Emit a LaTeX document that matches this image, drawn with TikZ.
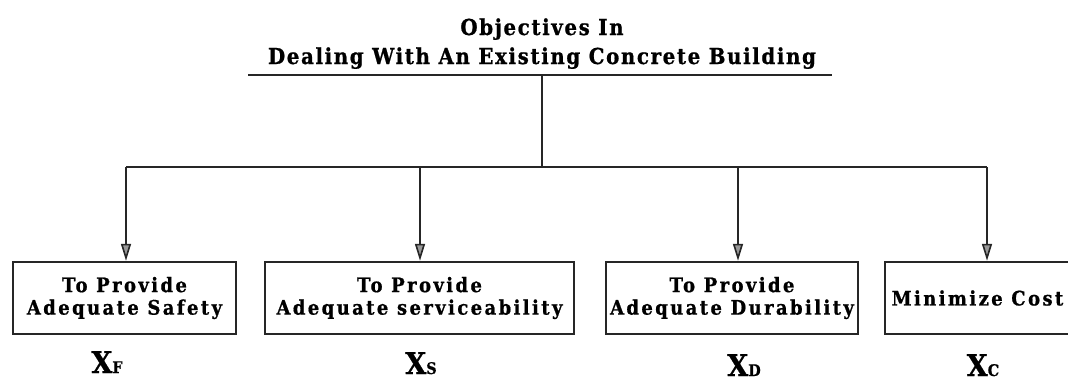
\documentclass[tikz,border=0pt]{standalone}
\usepackage{fontspec}
\usetikzlibrary{arrows.meta}
\newfontfamily\slabfont{DejaVu Serif Condensed}[FakeBold=0.8]

\tikzset{
  line/.style={line width=2.5pt, draw=black!85},
  arr/.style={line, -{Triangle[length=17pt, width=10pt, line width=1.6pt, fill=black!40]}},
  goalbox/.style={draw=black!85, line width=2.5pt, rectangle, minimum height=72pt,
    inner sep=0pt, align=center,
    font=\slabfont\bfseries\fontsize{20}{22.5}\selectfont\addfontfeature{LetterSpace=12}},
  headtext/.style={anchor=base, inner sep=0pt,
    font=\slabfont\bfseries\fontsize{22}{24}\selectfont\addfontfeature{LetterSpace=7.4}},
  varlabel/.style={anchor=base, inner sep=0pt, font=\slabfont\bfseries\fontsize{30}{32}\selectfont},
}
\newcommand{\subsc}[1]{{\fontsize{16}{18}\selectfont #1}}

\begin{document}
\begin{tikzpicture}[x=1pt, y=-1pt]
  \path[use as bounding box, fill=white] (0,0) rectangle (1068,384);

  % heading
  \node[headtext] (head1) at (542,35) {Objectives In};
  \node[headtext] (head2) at (542,64) {Dealing With An Existing Concrete Building};
  \coordinate (ruleL) at (248,75);
  \coordinate (ruleR) at (832,75);
  \coordinate (hub) at (542,75);
  \draw[line] (ruleL) -- (ruleR);

  % bus
  \coordinate (busC) at (542,167);
  \coordinate (c1) at (126,167);
  \coordinate (c2) at (420,167);
  \coordinate (c3) at (738,167);
  \coordinate (c4) at (987,167);
  \draw[line] (hub) -- (busC);
  \draw[line] (c1) -- (c4);

  % objective boxes
  \node[goalbox, minimum width=223pt] (b1) at (124.5,298) {To Provide\\Adequate Safety};
  \node[goalbox, minimum width=309pt] (b2) at (419.5,298) {To Provide\\Adequate serviceability};
  \node[goalbox, minimum width=252pt] (b3) at (732,298) {To Provide\\Adequate Durability};
  \node[goalbox, minimum width=185pt] (b4) at (977.5,298) {Minimize Cost};

  \draw[arr] (c1) -- (c1 |- b1.north);
  \draw[arr] (c2) -- (c2 |- b2.north);
  \draw[arr] (c3) -- (c3 |- b3.north);
  \draw[arr] (c4) -- (c4 |- b4.north);

  % decision variables
  \node[varlabel] (x1) at (107,373) {X\subsc{F}};
  \node[varlabel] (x2) at (421,374) {X\subsc{S}};
  \node[varlabel] (x3) at (744,376) {X\subsc{D}};
  \node[varlabel] (x4) at (983,376) {X\subsc{C}};
\end{tikzpicture}
\end{document}
